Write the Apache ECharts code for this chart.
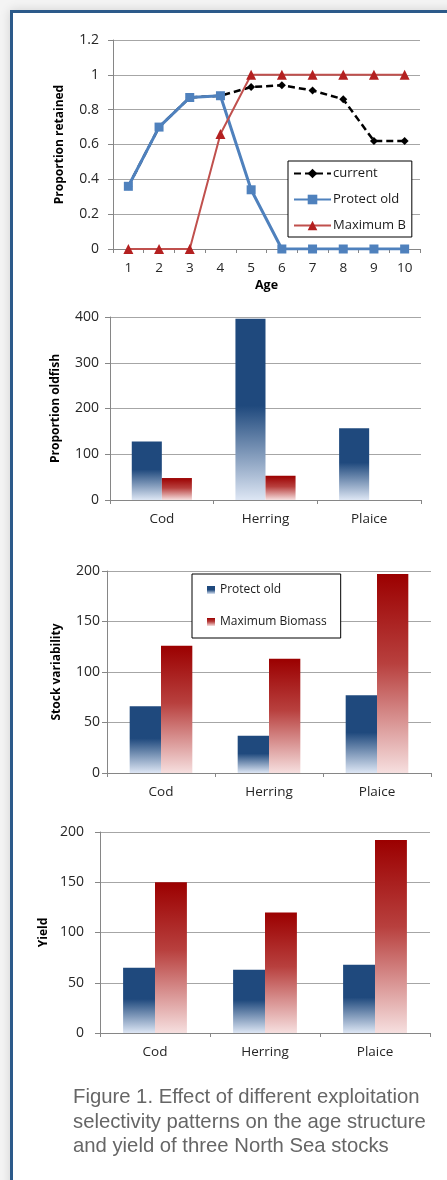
<!DOCTYPE html>
<html><head><meta charset="utf-8">
<script src="https://cdn.jsdelivr.net/npm/echarts@6/dist/echarts.min.js"></script>
<style>
html,body{margin:0;padding:0;width:447px;height:1180px;overflow:hidden;background:#f4f4f4;}
#frame{position:absolute;left:10px;top:10px;width:470px;height:1200px;background:#fff;border-top:3px solid #2c5a8a;border-left:3px solid #2c5a8a;box-shadow:0 0 10px rgba(0,0,0,0.14);}
#chart{position:absolute;left:0;top:0;width:447px;height:1180px;}
#caption{position:absolute;left:73px;top:1084px;font-family:"Liberation Sans",Arial,sans-serif;font-size:20.3px;line-height:24.5px;color:#666;white-space:nowrap;}
</style></head>
<body>
<div id="frame"></div>
<div id="chart"></div>
<div id="caption">Figure 1. Effect of different exploitation<br>selectivity patterns on the age structure<br>and yield of three North Sea stocks</div>
<script>
// ---- data ----
const ages = ['1','2','3','4','5','6','7','8','9','10'];
const currentSel = [0.36, 0.70, 0.87, 0.88, 0.93, 0.94, 0.91, 0.86, 0.62, 0.62];
const protectOldSel = [0.36, 0.70, 0.87, 0.88, 0.34, 0, 0, 0, 0, 0];
const maxBSel = [0, 0, 0, 0.66, 1, 1, 1, 1, 1, 1];
const stocks = ['Cod', 'Herring', 'Plaice'];
const oldfishProtect = [128, 396, 157];
const oldfishMaxB = [48, 53, 0];
const variabilityProtect = [66, 37, 77];
const variabilityMaxB = [126, 113, 197];
const yieldProtect = [65, 63, 68];
const yieldMaxB = [150, 120, 192];

// ---- styles ----
const FONT = '"Open Sans", sans-serif';
const gridColor = '#a6a6a6';
const axisColor = '#868686';
const labelColor = '#262626';
const blueGrad = {type:'linear',x:0,y:0,x2:0,y2:1,colorStops:[
  {offset:0,color:'#1f497d'},{offset:0.48,color:'#1f497d'},{offset:1,color:'#dde6f4'}]};
const redGrad = {type:'linear',x:0,y:0,x2:0,y2:1,colorStops:[
  {offset:0,color:'#9b0000'},{offset:0.45,color:'#b8403e'},{offset:1,color:'#f6dfdf'}]};

const grids = [
  {left:113, top:40, width:307, height:209},
  {left:110, top:317, width:311, height:183},
  {left:107, top:571, width:324, height:202},
  {left:100, top:832, width:330, height:201}
];

function xAx(i, data, extra){
  return Object.assign({
    type:'category', gridIndex:i, data:data, boundaryGap:true,
    axisLine:{show:true, lineStyle:{color:axisColor, width:1}},
    axisTick:{show:true, alignWithLabel:false, length:4, lineStyle:{color:axisColor}},
    axisLabel:{color:labelColor, fontFamily:FONT, fontSize:13.5, margin:12},
    splitLine:{show:false}
  }, extra||{});
}
function yAx(i, max, interval, name, gap, lblMargin){
  return {
    type:'value', gridIndex:i, min:0, max:max, interval:interval,
    name:name, nameLocation:'middle', nameGap:gap, nameRotate:90,
    nameTextStyle:{fontFamily:FONT, fontSize:12, fontWeight:'bold', color:'#000'},
    axisLine:{show:true, lineStyle:{color:axisColor, width:1}},
    axisTick:{show:true, length:5, lineStyle:{color:axisColor}},
    axisLabel:{color:labelColor, fontFamily:FONT, fontSize:14, margin:lblMargin},
    splitLine:{show:true, lineStyle:{color:gridColor, width:1}}
  };
}
function barPair(i, a, b){
  return [
    {type:'bar', name:'bar:Protect old', xAxisIndex:i, yAxisIndex:i, data:a,
     barGap:'0%', barCategoryGap:'42%', itemStyle:{color:blueGrad}, silent:true},
    {type:'bar', name:'bar:Maximum Biomass', xAxisIndex:i, yAxisIndex:i, data:b,
     barGap:'0%', barCategoryGap:'42%', itemStyle:{color:redGrad}, silent:true}
  ];
}

const option = {
  animation:false,
  backgroundColor:'transparent',
  grid: grids,
  xAxis:[
    xAx(0, ages, {name:'Age', nameLocation:'middle', nameGap:30,
      nameTextStyle:{fontFamily:FONT, fontSize:12.5, fontWeight:'bold', color:'#000'}}),
    xAx(1, stocks), xAx(2, stocks), xAx(3, stocks)
  ],
  yAxis:[
    yAx(0, 1.2, 0.2, 'Proportion retained', 47, 14),
    yAx(1, 400, 100, 'Proportion oldfish', 48, 11),
    yAx(2, 200, 50, 'Stock variability', 44, 7),
    yAx(3, 200, 50, 'Yield', 45, 16)
  ],
  legend:[
    {left:288, top:161, orient:'vertical', padding:[6,6,5,5], backgroundColor:'#fff',
     borderColor:'#000', borderWidth:1, borderRadius:0, itemWidth:37, itemHeight:12, itemGap:13,
     selectedMode:false, textStyle:{fontFamily:FONT, fontSize:13, color:'#1a1a1a', padding:[0,0,0,-3]},
     data:['current','Protect old','Maximum B']},
    {left:192, top:574, orient:'vertical', padding:[10,14,10,15], backgroundColor:'#fff',
     borderColor:'#000', borderWidth:1, borderRadius:0, itemWidth:8, itemHeight:8, itemGap:20,
     icon:'rect', selectedMode:false,
     textStyle:{fontFamily:FONT, fontSize:12, color:'#1a1a1a'},
     formatter:function(n){return n.replace('bar:','');},
     data:['bar:Protect old','bar:Maximum Biomass']}
  ],
  series:[
    {type:'line', name:'current', xAxisIndex:0, yAxisIndex:0, data:currentSel,
     symbol:'diamond', symbolSize:8, showAllSymbol:true,
     lineStyle:{color:'#000', width:2.5, type:[7,4]}, itemStyle:{color:'#000'}, silent:true},
    {type:'line', name:'Protect old', xAxisIndex:0, yAxisIndex:0, data:protectOldSel,
     symbol:'rect', symbolSize:9, showAllSymbol:true,
     lineStyle:{color:'#4f81bd', width:3}, itemStyle:{color:'#4f81bd'}, silent:true},
    {type:'line', name:'Maximum B', xAxisIndex:0, yAxisIndex:0, data:maxBSel,
     symbol:'triangle', symbolSize:10, showAllSymbol:true,
     lineStyle:{color:'#c0504d', width:2}, itemStyle:{color:'#b42020'}, silent:true}
  ].concat(barPair(1, oldfishProtect, oldfishMaxB))
   .concat(barPair(2, variabilityProtect, variabilityMaxB))
   .concat(barPair(3, yieldProtect, yieldMaxB))
};

const chart = echarts.init(document.getElementById('chart'), null, {renderer:'canvas'});
chart.setOption(option);
</script>
</body></html>
